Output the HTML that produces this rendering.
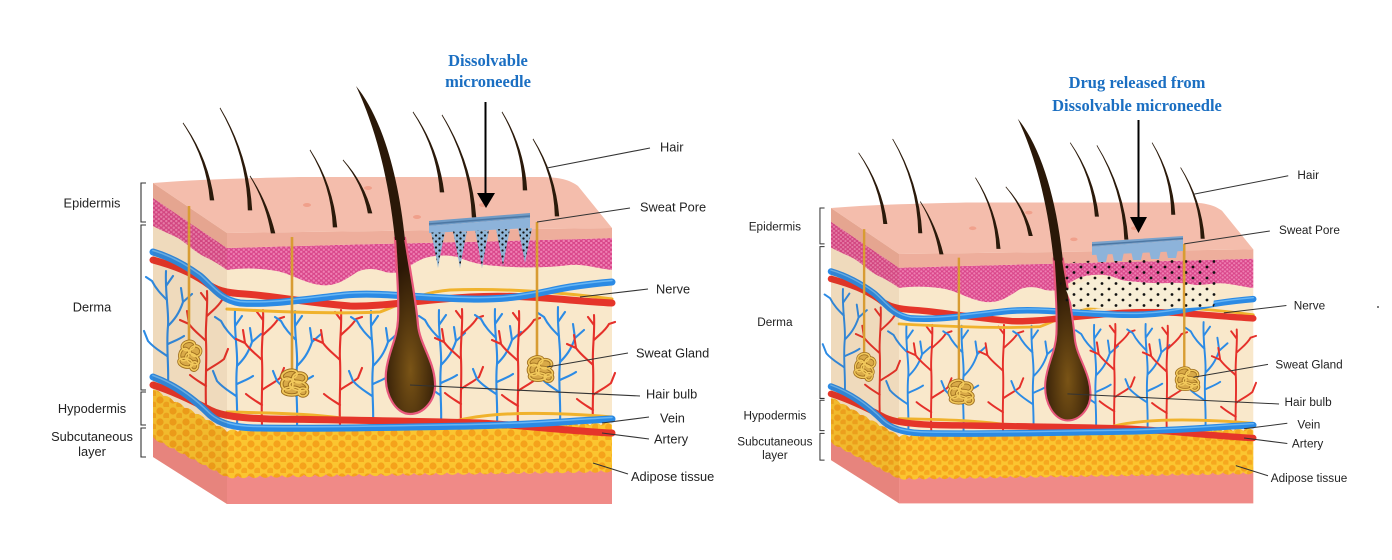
<!DOCTYPE html>
<html><head><meta charset="utf-8"><style>html,body{margin:0;padding:0;background:#fff}svg{display:block}</style></head>
<body>
<svg width="1392" height="560" viewBox="0 0 1392 560" xmlns="http://www.w3.org/2000/svg">
<defs>
<pattern id="mag" width="5" height="4.4" patternUnits="userSpaceOnUse"><rect width="5" height="4.4" fill="#d9468a"/><circle cx="1.25" cy="1.1" r="1.2" fill="#ef80b3"/><circle cx="3.75" cy="3.3" r="1.2" fill="#ef80b3"/></pattern>
<pattern id="fat" width="13" height="11" patternUnits="userSpaceOnUse"><rect width="13" height="11" fill="#fbc530"/><circle cx="4" cy="4" r="3.6" fill="#f5a21b"/><circle cx="10.5" cy="9" r="3.4" fill="#f6a81f"/></pattern>
<pattern id="dots" width="7" height="6" patternUnits="userSpaceOnUse"><circle cx="2" cy="1.5" r="1.15" fill="#111"/><circle cx="5.5" cy="4.5" r="1.15" fill="#111"/></pattern>
<pattern id="dots2" width="14" height="11" patternUnits="userSpaceOnUse"><circle cx="3" cy="3" r="1.4" fill="#111"/><circle cx="10" cy="8.5" r="1.4" fill="#111"/></pattern>
<radialGradient id="bulbg" cx="0.5" cy="0.75" r="0.6"><stop offset="0" stop-color="#7a5416"/><stop offset="1" stop-color="#2c1806"/></radialGradient>
<path id="bt" fill="none" stroke="#2c8be5" stroke-width="2.1" stroke-linecap="round" stroke-linejoin="round" d="M0,0 C1,-20 -2,-40 0,-60 C1,-75 -3,-92 -2,-115 M0,-60 C6,-66 11,-72 15,-84 L13,-98 M15,-84 L24,-92 M-1,-86 C-7,-92 -12,-97 -16,-105 L-22,-109 M-1,-30 C-8,-35 -14,-38 -20,-45 L-24,-55 M0,-42 C6,-45 10,-46 16,-50 M-2,-100 L5,-110"/>
<path id="rt" fill="none" stroke="#e5302a" stroke-width="2.1" stroke-linecap="round" stroke-linejoin="round" d="M0,0 C-1,-25 1,-45 0,-65 C-1,-80 2,-96 1,-115 M0,-65 C-6,-71 -12,-75 -17,-82 L-19,-95 M-17,-82 L-26,-86 M1,-90 C7,-96 12,-99 16,-106 L22,-108 M0,-35 C7,-40 12,-42 18,-47 L22,-57 M0,-20 C-6,-24 -10,-26 -16,-31 M1,-105 L-5,-113"/>
<g id="coil">
<ellipse cx="-4" cy="-7" rx="7" ry="4.5" transform="rotate(-20 -4 -7)"/>
<ellipse cx="5" cy="-4" rx="6" ry="5"/>
<ellipse cx="-6" cy="2" rx="5" ry="6"/>
<ellipse cx="4" cy="4" rx="8" ry="4.5" transform="rotate(15 4 4)"/>
<ellipse cx="-2" cy="9" rx="8" ry="4"/>
<ellipse cx="8" cy="10" rx="4" ry="4"/>
</g>
<g id="gland">
<use href="#coil" fill="#d9aa48" stroke="#a07020" stroke-width="3.4"/>
<use href="#coil" fill="none" stroke="#f2c95c" stroke-width="1.6"/>
</g>

<g id="block">
<!-- faces -->
<path d="M153,183 L227,233 L227,504 L153,457Z" fill="#f9e8cb"/>
<path d="M227,233 L612,228 L612,504 L227,504Z" fill="#f9e8cb"/>
<!-- capillaries -->
<use href="#bt" x="168" y="386"/>
<use href="#rt" x="206" y="406"/>
<use href="#bt" x="237" y="426"/>
<use href="#rt" x="262" y="425"/>
<use href="#bt" x="297" y="426"/>
<use href="#rt" x="340" y="425"/>
<use href="#bt" x="373" y="426"/>
<use href="#bt" x="441" y="425"/>
<use href="#rt" x="461" y="424"/>
<use href="#bt" x="497" y="424"/>
<use href="#rt" x="518" y="426"/>
<use href="#bt" x="560" y="422"/>
<use href="#rt" x="593" y="430"/>
<!-- pink bottom -->
<path d="M227,474 L612,468 L612,504 L227,504Z" fill="#f08a87"/>
<path d="M153,436 L227,474 L227,504 L153,457Z" fill="#f08a87"/>
<!-- fat -->
<path fill="url(#fat)" d="M227,432 q5.5,-5 11,-0.2 q5.5,-5 11,-0.2 q5.5,-5 11,-0.2 q5.5,-5 11,-0.2 q5.5,-5 11,-0.2 q5.5,-5 11,-0.2 q5.5,-5 11,-0.2 q5.5,-5 11,-0.2 q5.5,-5 11,-0.2 q5.5,-5 11,-0.2 q5.5,-5 11,-0.2 q5.5,-5 11,-0.2 q5.5,-5 11,-0.2 q5.5,-5 11,-0.2 q5.5,-5 11,-0.2 q5.5,-5 11,-0.2 q5.5,-5 11,-0.2 q5.5,-5 11,-0.2 q5.5,-5 11,-0.2 q5.5,-5 11,-0.2 q5.5,-5 11,-0.2 q5.5,-5 11,-0.2 q5.5,-5 11,-0.2 q5.5,-5 11,-0.2 q5.5,-5 11,-0.2 q5.5,-5 11,-0.2 q5.5,-5 11,-0.2 q5.5,-5 11,-0.2 q5.5,-5 11,-0.2 q5.5,-5 11,-0.2 q5.5,-5 11,-0.2 q5.5,-5 11,-0.2 q5.5,-5 11,-0.2 q5.5,-5 11,-0.2 q5.5,-5 11,-0.2 L612,470 q-5.5,5 -11,0.17 q-5.5,5 -11,0.17 q-5.5,5 -11,0.17 q-5.5,5 -11,0.17 q-5.5,5 -11,0.17 q-5.5,5 -11,0.17 q-5.5,5 -11,0.17 q-5.5,5 -11,0.17 q-5.5,5 -11,0.17 q-5.5,5 -11,0.17 q-5.5,5 -11,0.17 q-5.5,5 -11,0.17 q-5.5,5 -11,0.17 q-5.5,5 -11,0.17 q-5.5,5 -11,0.17 q-5.5,5 -11,0.17 q-5.5,5 -11,0.17 q-5.5,5 -11,0.17 q-5.5,5 -11,0.17 q-5.5,5 -11,0.17 q-5.5,5 -11,0.17 q-5.5,5 -11,0.17 q-5.5,5 -11,0.17 q-5.5,5 -11,0.17 q-5.5,5 -11,0.17 q-5.5,5 -11,0.17 q-5.5,5 -11,0.17 q-5.5,5 -11,0.17 q-5.5,5 -11,0.17 q-5.5,5 -11,0.17 q-5.5,5 -11,0.17 q-5.5,5 -11,0.17 q-5.5,5 -11,0.17 q-5.5,5 -11,0.17 q-5.5,5 -11,0.17 Z"/>
<path fill="url(#fat)" d="M153,390 q5.3,-1 10.57,6 q5.3,-1 10.57,6 q5.3,-1 10.57,6 q5.3,-1 10.57,6 q5.3,-1 10.57,6 q5.3,-1 10.57,6 q5.3,-1 10.57,6 L227,476 q-5.3,1.2 -10.57,-5.57 q-5.3,1.2 -10.57,-5.57 q-5.3,1.2 -10.57,-5.57 q-5.3,1.2 -10.57,-5.57 q-5.3,1.2 -10.57,-5.57 q-5.3,1.2 -10.57,-5.57 q-5.3,1.2 -10.57,-5.57 Z"/>
<!-- lower vessels -->
<g fill="none" stroke-linecap="round">
<path d="M227,412 C280,413 330,414 370,423 C400,430 430,428 460,420 C490,413 540,411 612,417" stroke="#f0b22c" stroke-width="3"/>
<path d="M153,385 C175,392 195,402 210,410 C222,416 240,418 270,419 C340,420 420,421 480,423 C530,426 570,431 612,433" stroke="#e5352a" stroke-width="7"/>
<path d="M153,377 C175,385 195,400 210,415 C220,424 235,428 260,428 C330,429 400,427 470,426 C530,425 570,421 612,419" stroke="#2b8ae4" stroke-width="7"/>
<path d="M153,377 C175,385 195,400 210,415 C220,424 235,428 260,428 C330,429 400,427 470,426 C530,425 570,421 612,419" stroke="#67b6f4" stroke-width="1.5" transform="translate(0,-1.5)"/>
<!-- upper vessels -->
<path d="M227,309 C280,312 340,314 380,312 C400,305 420,292 450,290 C500,288 560,292 612,299" stroke="#f0b22c" stroke-width="3"/>
<path d="M153,260 C175,266 190,272 205,282 C215,290 225,293 245,294 C275,296 300,302 350,306 C380,307 420,300 470,297 C520,294 560,300 612,303" stroke="#e5352a" stroke-width="7"/>
<path d="M153,252 C170,257 185,265 200,276 C212,286 220,300 240,303 C270,305 300,300 345,295 C380,292 420,298 470,299 C520,300 540,292 570,287 C590,284 600,283 612,282" stroke="#2b8ae4" stroke-width="7"/>
<path d="M153,252 C170,257 185,265 200,276 C212,286 220,300 240,303 C270,305 300,300 345,295 C380,292 420,298 470,299 C520,300 540,292 570,287 C590,284 600,283 612,282" stroke="#67b6f4" stroke-width="1.5" transform="translate(0,-1.5)"/>
</g>
<!-- magenta epidermis -->
<path fill="url(#mag)" d="M227,248 C400,243 560,240 612,238 L612,270 C595,268 585,264 570,265 C545,268 520,268 497,266 C480,265 470,262 460,258 C450,254 430,255 420,260 C410,265 405,270 400,272 C395,273 390,273 385,272 C375,268 365,268 357,272 C345,280 335,287 320,285 C300,282 290,272 270,270 C255,268 240,268 227,270 Z"/>
<path fill="url(#mag)" d="M153,198 L227,248 L227,270 C220,265 212,260 205,257 C195,252 190,246 178,238 C170,234 160,230 153,226 Z"/>
<!-- stratum band -->
<path d="M227,233 L612,228 L612,238 C560,240 400,243 227,248 Z" fill="#eeae9c"/>
<path d="M153,183 L227,233 L227,248 L153,198 Z" fill="#eeae9c"/>
<!-- left face shading -->
<path d="M153,183 L227,233 L227,504 L153,457Z" fill="#7a3a10" opacity="0.08"/>
<!-- top surface -->
<path d="M153,183 C200,179 260,178 300,177 L540,177 C560,177 570,180 578,186 L612,228 L227,233 Z" fill="#f4bdac"/>
<g fill="#f09a84" opacity="0.8">
<ellipse cx="307" cy="205" rx="4" ry="2"/><ellipse cx="368" cy="188" rx="4" ry="2"/><ellipse cx="417" cy="217" rx="4" ry="2"/><ellipse cx="483" cy="205" rx="4" ry="2"/>
</g>
<!-- ducts & glands -->
<g stroke="#d89c32" stroke-width="2.6">
<line x1="189" y1="206" x2="189" y2="342"/>
<line x1="292" y1="237" x2="292" y2="370"/>
<line x1="537" y1="222" x2="537" y2="356"/>
</g>
<use href="#gland" transform="translate(190,354) rotate(15) scale(0.9,1.05)"/>
<use href="#gland" transform="translate(294,382) scale(1.12,1)"/>
<use href="#gland" transform="translate(540,368) scale(1.05,0.95)"/>
<!-- hair follicle -->
<path d="M395,238 C397,270 399,300 398,320 C397,340 388,352 386,372 C384,395 396,414 410,414 C424,414 436,400 435,383 C434,360 420,345 418,325 C416,300 410,270 405,238 Z" fill="url(#bulbg)" stroke="#e8587c" stroke-width="2.2"/>
<path d="M356,86 C372,120 388,170 395,240 L405,240 C398,170 380,115 356,86 Z" fill="#2a1808"/>
<!-- small hairs -->
<g fill="#2b1a0b" stroke="#2b1a0b" stroke-width="0.8">
<path d="M183,123 Q206.7,158 210.2,200 L213.8,200 Q207.9,158 183,123Z"/>
<path d="M220,108 Q247.2,155.4 248.2,210 L251.8,210 Q248.4,155.4 220,108Z"/>
<path d="M250,176 Q266.1,202.3 271.2,233 L274.8,233 Q267.3,202.3 250,176Z"/>
<path d="M310,150 Q331.7,185.5 333.2,227 L336.8,227 Q332.9,185.5 310,150Z"/>
<path d="M343,160 Q362.9,183.3 368.2,213 L371.8,213 Q364.1,183.3 343,160Z"/>
<path d="M413,112 Q437.1,148.5 440.2,192 L443.8,192 Q438.3,148.5 413,112Z"/>
<path d="M442,115 Q470.2,162.2 472.2,217 L475.8,217 Q471.4,162.2 442,115Z"/>
<path d="M502,112 Q522.9,148.2 523.2,190 L526.8,190 Q524.1,148.2 502,112Z"/>
<path d="M533,139 Q554.2,174.6 555.2,216 L558.8,216 Q555.4,174.6 533,139Z"/>
</g>
</g>

<g id="leaders" fill="none" stroke="#333" stroke-width="1.1">
<path d="M146,183 H141 V222 H146 M146,225 H141 V390 H146 M146,392 H141 V425 H146 M146,428 H141 V457 H146"/>
<path d="M547,168 L650,148 M537,222 L630,208 M580,297 L648,289 M547,367 L628,353 M410,385 L640,396 M602,423 L649,417 M602,433 L649,439 M593,463 L628,474"/>
</g>
</defs>

<!-- left diagram -->
<use href="#block"/>
<use href="#leaders"/>
<g font-family="'Liberation Sans', Arial, sans-serif" font-size="12.8" fill="#222">
<text x="92" y="207.5" text-anchor="middle">Epidermis</text>
<text x="92" y="311.5" text-anchor="middle">Derma</text>
<text x="92" y="413" text-anchor="middle">Hypodermis</text>
<text x="92" y="441" text-anchor="middle">Subcutaneous</text>
<text x="92" y="456" text-anchor="middle">layer</text>
<text x="660" y="151.5">Hair</text>
<text x="640" y="211.5">Sweat Pore</text>
<text x="656" y="293.5">Nerve</text>
<text x="636" y="357.5">Sweat Gland</text>
<text x="646" y="398.5">Hair bulb</text>
<text x="660" y="422.5">Vein</text>
<text x="654" y="443.5">Artery</text>
<text x="631" y="481">Adipose tissue</text>
</g>

<!-- left microneedle -->
<polygon points="429,221 530,213 530,218 429,226" fill="#6f9bc6"/>
<polygon points="429,226 530,218 530,228 429,233" fill="#8db3da"/>
<line x1="429" y1="224" x2="530" y2="216" stroke="#4d77a3" stroke-width="1.5"/>
<g fill="#8fb5d6">
<path d="M431,232.5 Q435,250 438,268 Q441,250 445,232.5Z"/>
<path d="M453,231.5 Q457,250 460,268 Q463,250 467,231.5Z"/>
<path d="M475,230.4 Q479,250 482,268 Q485,250 489,230.4Z"/>
<path d="M496,229.3 Q500,248 503,266 Q506,248 510,229.3Z"/>
<path d="M518,228.2 Q522,246 525,263 Q528,246 532,228.2Z"/>
</g>
<g fill="url(#dots)">
<path d="M431,232.5 Q435,250 438,268 Q441,250 445,232.5Z"/>
<path d="M453,231.5 Q457,250 460,268 Q463,250 467,231.5Z"/>
<path d="M475,230.4 Q479,250 482,268 Q485,250 489,230.4Z"/>
<path d="M496,229.3 Q500,248 503,266 Q506,248 510,229.3Z"/>
<path d="M518,228.2 Q522,246 525,263 Q528,246 532,228.2Z"/>
</g>

<!-- left title + arrow -->
<g font-family="'Liberation Serif', 'Times New Roman', serif" font-weight="bold" font-size="16.5" fill="#1b6fc2" text-anchor="middle">
<text x="488" y="66">Dissolvable</text>
<text x="488" y="87">microneedle</text>
<text x="1137" y="88">Drug released from</text>
<text x="1137" y="111">Dissolvable microneedle</text>
</g>
<line x1="485.5" y1="102" x2="485.5" y2="195" stroke="#000" stroke-width="2"/>
<polygon points="477,193 495,193 486,208" fill="#000"/>

<!-- right diagram -->
<g transform="translate(690.24,39.64) scale(0.92)">
<use href="#block"/>
<use href="#leaders"/>
<g font-family="'Liberation Sans', Arial, sans-serif" font-size="12.8" fill="#222">
<text x="92" y="207.5" text-anchor="middle">Epidermis</text>
<text x="92" y="311.5" text-anchor="middle">Derma</text>
<text x="92" y="413" text-anchor="middle">Hypodermis</text>
<text x="92" y="441" text-anchor="middle">Subcutaneous</text>
<text x="92" y="456" text-anchor="middle">layer</text>
<text x="660" y="151.5">Hair</text>
<text x="640" y="211.5">Sweat Pore</text>
<text x="656" y="293.5">Nerve</text>
<text x="636" y="357.5">Sweat Gland</text>
<text x="646" y="398.5">Hair bulb</text>
<text x="660" y="422.5">Vein</text>
<text x="654" y="443.5">Artery</text>
<text x="631" y="481">Adipose tissue</text>
</g>
</g>

<!-- right drug region -->
<path d="M1066,290 C1080,282 1095,277 1110,279 C1130,281 1150,284 1170,283 C1190,282 1205,287 1215,292 L1213,306 C1180,310 1120,309 1073,307 Z" fill="#f8eed6"/>
<path d="M1062,263 C1100,259 1160,257 1215,259 L1218,298 L1213,308 L1070,310 L1060,290 Z" fill="url(#dots2)"/>
<line x1="1184" y1="248" x2="1184" y2="312" stroke="#d89c32" stroke-width="2.4"/>
<!-- right microneedle -->
<g fill="#8db3da">
<path d="M1096,253 L1108,253 L1106,262 L1098,262Z"/>
<path d="M1112,252 L1124,252 L1122,261 L1114,261Z"/>
<path d="M1131,251 L1143,251 L1141,260 L1133,260Z"/>
<path d="M1149,250 L1161,250 L1159,259 L1151,259Z"/>
<path d="M1166,249 L1178,249 L1176,258 L1168,258Z"/>
</g>
<polygon points="1092,242 1183,236 1183,240 1092,247" fill="#7aa3cc"/>
<polygon points="1092,247 1183,240 1183,251 1092,255" fill="#8db3da"/>
<line x1="1092" y1="245" x2="1183" y2="238.5" stroke="#4d77a3" stroke-width="1.4"/>

<!-- right arrow -->
<line x1="1138.5" y1="120" x2="1138.5" y2="219" stroke="#000" stroke-width="2"/>
<polygon points="1130,217 1147,217 1138.5,233" fill="#000"/>
<circle cx="1378" cy="307" r="0.9" fill="#222"/>
</svg>
</body></html>
